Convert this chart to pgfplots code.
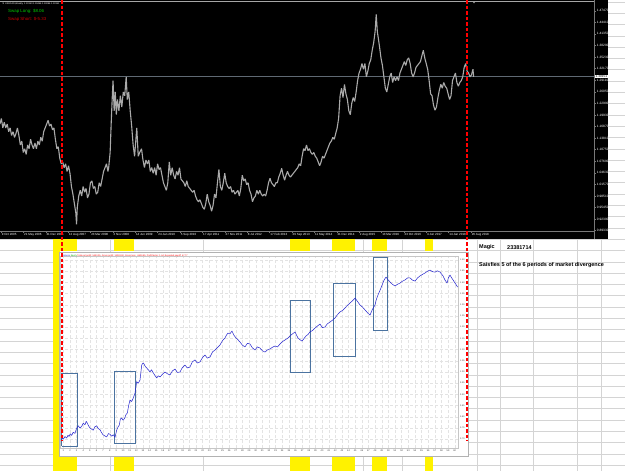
\documentclass[border=0pt]{standalone}
\usepackage{pgfplots}
\pgfplotsset{compat=1.18}
\usepackage{fontspec}
\setmainfont{Liberation Sans}
\definecolor{mtgrey}{RGB}{120,120,120}
\definecolor{bargrey}{RGB}{170,170,170}
\definecolor{priceline}{RGB}{95,105,115}
\definecolor{swapgreen}{RGB}{0,200,0}
\definecolor{swapred}{RGB}{205,0,0}
\definecolor{xlgrid}{RGB}{212,212,212}
\definecolor{boxblue}{RGB}{75,115,160}
\definecolor{eqblue}{RGB}{35,35,205}
\begin{document}
\begin{tikzpicture}
\useasboundingbox (0,0) rectangle (625pt,-471pt);
\clip (0,0) rectangle (625pt,-471pt);
\begin{scope}[x=1pt,y=-1pt]
\fill[white] (0,0) rectangle (625,471);
\foreach \k in {-22,...,19} {\draw[xlgrid, line width=0.5pt] (0,{250.5+11.3*\k}) -- (625,{250.5+11.3*\k});}
\foreach \c in {110,203,363,402,477,500,533,577,601} {\draw[xlgrid, line width=0.5pt] (\c,239) -- (\c,471);}
\foreach \a/\b in {53/77,114/134,290/310,332/355,372/387,425/433} {\fill[yellow] (\a,239) rectangle (\b,251); \fill[yellow] (\a,456.5) rectangle (\b,471);}
\fill[yellow] (53,239) rectangle (60,471);
\fill[black] (0,0) rectangle (608,239);
\draw[mtgrey, line width=0.5pt] (594,231) -- (594,239);
\node[anchor=west, font=\fontsize{5.5}{6}\selectfont\bfseries, inner sep=0] at (479,247.5) {Magic};
\node[anchor=west, font=\fontsize{5.5}{6}\selectfont\bfseries, inner sep=0] at (507,247.5) {23381714};
\node[anchor=west, font=\fontsize{5.5}{6}\selectfont\bfseries, inner sep=0] at (479,265) {Saisfies 5 of the 6 periods of market divergence};
\filldraw[fill=white, draw=gray!60, line width=0.5pt] (59,252.5) rectangle (468,456.5);
\draw[gray!70, line width=0.4pt] (0,0.8) -- (594,0.8);
\end{scope}

% ---------- top: USDCAD weekly ----------
\begin{axis}[
  at={(0pt,-231pt)}, anchor=south west, scale only axis,
  width=594pt, height=231pt,
  xmin=2005.7426, xmax=2022.0166, ymin=0.8925, ymax=1.5030,
  axis x line*=bottom, axis y line*=right,
  axis line style={-, draw=mtgrey, line width=0.5pt},
  every outer x axis line/.append style={-},
  every outer y axis line/.append style={-},
  xtick={2005.7700,2006.3832,2006.9963,2007.6095,2008.2226,2008.8358,2009.4489,2010.0621,2010.6752,2011.2884,2011.9015,2012.5147,2013.1278,2013.7410,2014.3541,2014.9673,2015.5804,2016.1936,2016.8067,2017.4199,2018.0330,2018.6462},
  xticklabels={9 Oct 2005,21 May 2006,31 Dec 2006,12 Aug 2007,23 Mar 2008,2 Nov 2008,14 Jun 2009,24 Jan 2010,5 Sep 2010,17 Apr 2011,27 Nov 2011,8 Jul 2012,17 Feb 2013,29 Sep 2013,11 May 2014,21 Dec 2014,2 Aug 2015,13 Mar 2016,23 Oct 2016,4 Jun 2017,14 Jan 2018,26 Aug 2018},
  ytick={0.8933,0.9239,0.9545,0.9851,1.0157,1.0463,1.0769,1.1075,1.1381,1.1687,1.1993,1.2299,1.2605,1.2911,1.3217,1.3523,1.3829,1.4135,1.4441,1.4747},
  yticklabels={0.89330,0.92390,0.95450,0.98510,1.01570,1.04630,1.07690,1.10750,1.13810,1.16870,1.19930,1.22990,1.26050,1.29110,1.32170,1.35230,1.38290,1.41350,1.44410,1.47470},
  tick style={draw=mtgrey, line width=0.4pt},
  major tick length=2pt, tick align=outside,
  xticklabel style={anchor=north west, text=white, font=\fontsize{3}{3.5}\selectfont, inner sep=0.6pt},
  yticklabel style={anchor=west, text=white, font=\fontsize{3.2}{3.5}\selectfont, inner sep=0.8pt},
  clip=true,
]
\addplot[draw=priceline, line width=0.5pt] coordinates {(2005.7426,1.30151) (2022.0166,1.30151)};
\addplot[draw=bargrey, line width=1.1pt, line join=bevel] table[row sep=\\] {
t p\\
2005.74 1.175\\ 2005.78 1.190\\ 2005.82 1.165\\ 2005.86 1.180\\ 2005.90 1.165\\ 2005.94 1.175\\ 2005.98 1.155\\
2006.02 1.165\\ 2006.06 1.145\\ 2006.10 1.155\\ 2006.14 1.140\\ 2006.18 1.150\\ 2006.22 1.165\\ 2006.26 1.145\\
2006.30 1.120\\ 2006.34 1.130\\ 2006.38 1.100\\ 2006.42 1.110\\ 2006.46 1.095\\ 2006.50 1.120\\ 2006.54 1.110\\
2006.58 1.135\\ 2006.62 1.120\\ 2006.66 1.110\\ 2006.70 1.125\\ 2006.74 1.110\\ 2006.78 1.130\\ 2006.82 1.120\\
2006.86 1.140\\ 2006.90 1.130\\ 2006.94 1.155\\ 2006.98 1.165\\ 2007.02 1.175\\ 2007.06 1.185\\ 2007.10 1.170\\
2007.14 1.175\\ 2007.18 1.160\\ 2007.22 1.165\\ 2007.26 1.135\\ 2007.30 1.110\\ 2007.34 1.115\\ 2007.38 1.085\\
2007.42 1.070\\ 2007.46 1.075\\ 2007.50 1.060\\ 2007.54 1.070\\ 2007.58 1.050\\ 2007.62 1.065\\ 2007.66 1.045\\
2007.70 1.010\\ 2007.74 0.990\\ 2007.78 0.965\\ 2007.82 0.940\\ 2007.84 0.910\\ 2007.86 0.955\\ 2007.90 0.985\\
2007.94 1.000\\ 2007.98 0.985\\ 2008.02 1.010\\ 2008.06 0.995\\ 2008.10 1.005\\ 2008.14 0.980\\ 2008.18 0.990\\
2008.22 1.020\\ 2008.26 1.025\\ 2008.30 1.005\\ 2008.34 1.010\\ 2008.38 0.990\\ 2008.42 0.995\\ 2008.46 1.020\\
2008.50 1.010\\ 2008.54 1.030\\ 2008.58 1.050\\ 2008.62 1.060\\ 2008.66 1.070\\ 2008.70 1.050\\ 2008.72 1.060\\
2008.76 1.100\\ 2008.79 1.180\\ 2008.82 1.250\\ 2008.84 1.290\\ 2008.87 1.210\\ 2008.90 1.260\\ 2008.93 1.200\\
2008.96 1.240\\ 2009.00 1.210\\ 2009.04 1.250\\ 2009.08 1.220\\ 2009.12 1.260\\ 2009.16 1.250\\ 2009.20 1.300\\
2009.23 1.240\\ 2009.27 1.260\\ 2009.31 1.210\\ 2009.35 1.170\\ 2009.39 1.120\\ 2009.43 1.090\\ 2009.49 1.165\\
2009.53 1.090\\ 2009.57 1.100\\ 2009.62 1.110\\ 2009.66 1.080\\ 2009.70 1.060\\ 2009.74 1.080\\ 2009.78 1.070\\
2009.82 1.080\\ 2009.86 1.050\\ 2009.90 1.060\\ 2009.94 1.045\\ 2009.98 1.060\\ 2010.02 1.040\\ 2010.06 1.070\\
2010.10 1.055\\ 2010.14 1.060\\ 2010.18 1.040\\ 2010.22 1.020\\ 2010.26 1.010\\ 2010.30 1.000\\ 2010.34 1.020\\
2010.38 1.075\\ 2010.42 1.040\\ 2010.46 1.060\\ 2010.50 1.040\\ 2010.54 1.030\\ 2010.58 1.050\\ 2010.62 1.040\\
2010.66 1.060\\ 2010.70 1.030\\ 2010.74 1.025\\ 2010.78 1.020\\ 2010.82 1.010\\ 2010.86 1.025\\ 2010.90 1.010\\
2010.94 1.005\\ 2010.98 1.000\\ 2011.02 0.995\\ 2011.06 1.000\\ 2011.10 0.985\\ 2011.14 0.975\\ 2011.18 0.970\\
2011.22 0.975\\ 2011.26 0.965\\ 2011.30 0.955\\ 2011.34 0.950\\ 2011.38 0.965\\ 2011.42 0.990\\ 2011.46 0.970\\
2011.50 0.960\\ 2011.54 0.945\\ 2011.58 0.960\\ 2011.62 0.990\\ 2011.66 0.980\\ 2011.70 1.020\\ 2011.74 1.055\\
2011.78 1.010\\ 2011.82 1.000\\ 2011.86 1.020\\ 2011.90 1.045\\ 2011.94 1.020\\ 2011.98 1.010\\ 2012.02 1.005\\
2012.06 1.010\\ 2012.10 0.995\\ 2012.14 1.000\\ 2012.18 0.990\\ 2012.22 0.995\\ 2012.26 1.000\\ 2012.30 0.985\\
2012.34 1.005\\ 2012.38 1.040\\ 2012.42 1.025\\ 2012.46 1.030\\ 2012.50 1.015\\ 2012.54 1.020\\ 2012.58 1.000\\
2012.62 0.990\\ 2012.66 0.970\\ 2012.70 0.980\\ 2012.74 0.985\\ 2012.78 1.000\\ 2012.82 0.990\\ 2012.86 1.000\\
2012.90 0.990\\ 2012.94 0.985\\ 2012.98 0.990\\ 2013.02 0.985\\ 2013.06 1.000\\ 2013.10 1.020\\ 2013.14 1.032\\
2013.18 1.020\\ 2013.22 1.015\\ 2013.26 1.010\\ 2013.30 1.020\\ 2013.34 1.020\\ 2013.38 1.035\\ 2013.42 1.045\\
2013.46 1.058\\ 2013.50 1.040\\ 2013.54 1.027\\ 2013.58 1.040\\ 2013.62 1.050\\ 2013.66 1.040\\ 2013.70 1.035\\
2013.74 1.040\\ 2013.78 1.045\\ 2013.82 1.050\\ 2013.86 1.055\\ 2013.90 1.060\\ 2013.94 1.070\\ 2013.98 1.065\\
2014.02 1.090\\ 2014.06 1.110\\ 2014.10 1.105\\ 2014.14 1.120\\ 2014.18 1.105\\ 2014.22 1.110\\ 2014.26 1.100\\
2014.30 1.095\\ 2014.34 1.100\\ 2014.38 1.090\\ 2014.42 1.085\\ 2014.46 1.075\\ 2014.50 1.065\\ 2014.54 1.075\\
2014.58 1.090\\ 2014.62 1.085\\ 2014.66 1.095\\ 2014.70 1.105\\ 2014.74 1.115\\ 2014.78 1.125\\ 2014.82 1.130\\
2014.86 1.140\\ 2014.90 1.135\\ 2014.94 1.150\\ 2014.98 1.165\\ 2015.02 1.190\\ 2015.06 1.250\\ 2015.10 1.270\\
2015.14 1.245\\ 2015.18 1.280\\ 2015.22 1.255\\ 2015.26 1.240\\ 2015.30 1.210\\ 2015.34 1.200\\ 2015.38 1.230\\
2015.42 1.245\\ 2015.46 1.235\\ 2015.50 1.260\\ 2015.54 1.290\\ 2015.58 1.310\\ 2015.62 1.320\\ 2015.66 1.335\\
2015.70 1.320\\ 2015.74 1.335\\ 2015.78 1.300\\ 2015.82 1.315\\ 2015.86 1.335\\ 2015.90 1.345\\ 2015.94 1.370\\
2015.98 1.390\\ 2016.02 1.420\\ 2016.05 1.465\\ 2016.08 1.420\\ 2016.11 1.400\\ 2016.14 1.380\\ 2016.18 1.350\\
2016.22 1.330\\ 2016.26 1.300\\ 2016.30 1.270\\ 2016.34 1.260\\ 2016.38 1.280\\ 2016.42 1.300\\ 2016.46 1.310\\
2016.50 1.285\\ 2016.54 1.300\\ 2016.58 1.290\\ 2016.62 1.300\\ 2016.66 1.290\\ 2016.70 1.310\\ 2016.74 1.320\\
2016.78 1.330\\ 2016.82 1.340\\ 2016.86 1.330\\ 2016.90 1.345\\ 2016.94 1.350\\ 2016.98 1.335\\ 2017.02 1.310\\
2017.06 1.300\\ 2017.10 1.310\\ 2017.14 1.325\\ 2017.18 1.330\\ 2017.22 1.335\\ 2017.26 1.340\\ 2017.30 1.355\\
2017.34 1.370\\ 2017.38 1.350\\ 2017.42 1.335\\ 2017.46 1.320\\ 2017.50 1.290\\ 2017.54 1.255\\ 2017.58 1.250\\
2017.62 1.225\\ 2017.66 1.212\\ 2017.70 1.220\\ 2017.74 1.245\\ 2017.78 1.265\\ 2017.82 1.280\\ 2017.86 1.270\\
2017.90 1.285\\ 2017.94 1.275\\ 2017.98 1.270\\ 2018.02 1.255\\ 2018.06 1.240\\ 2018.10 1.250\\ 2018.14 1.290\\
2018.18 1.300\\ 2018.22 1.310\\ 2018.26 1.285\\ 2018.30 1.275\\ 2018.34 1.285\\ 2018.38 1.290\\ 2018.42 1.300\\
2018.46 1.325\\ 2018.50 1.335\\ 2018.54 1.315\\ 2018.58 1.310\\ 2018.62 1.300\\ 2018.66 1.305\\ 2018.70 1.320\\
2018.72 1.300\\
};
\end{axis}

% ---------- bottom: equity curve ----------
\begin{axis}[
  at={(60pt,-448pt)}, anchor=south west, scale only axis,
  width=398pt, height=192pt,
  xmin=0.5, xmax=60.5, ymin=0.6607, ymax=1.5179,
  axis x line*=bottom, axis y line*=right,
  axis line style={-, draw=gray!80, line width=0.5pt},
  every outer x axis line/.append style={-},
  every outer y axis line/.append style={-},
  xtick={1,...,60},
  ytick={0.70,0.75,0.80,0.85,0.90,0.95,1.00,1.05,1.10,1.15,1.20,1.25,1.30,1.35,1.40,1.45,1.50},
  yticklabels={0.70,0.75,0.80,0.85,0.90,0.95,1.00,1.05,1.10,1.15,1.20,1.25,1.30,1.35,1.40,1.45,1.50},
  /pgf/number format/assume math mode=true,
  grid=major, major grid style={densely dashed, draw=gray!22, line width=0.3pt},
  tick style={draw=gray!80, line width=0.3pt},
  major tick length=1.2pt, tick align=outside,
  xticklabel style={font=\fontsize{2.4}{2.6}\selectfont, text=gray!50!black, inner sep=0.6pt},
  yticklabel style={font=\fontsize{2.2}{2.4}\selectfont, text=gray!50!black, inner sep=0.8pt},
  clip=false,
]
\draw[gray!45, line width=0.4pt] (rel axis cs:0,0) rectangle (rel axis cs:1,1);
\addplot[draw=boxblue, line width=0.6pt] coordinates {(0.76,0.670) (3.10,0.670) (3.10,0.994) (0.76,0.994) (0.76,0.670)};
\addplot[draw=boxblue, line width=0.6pt] coordinates {(8.69,0.682) (11.90,0.682) (11.90,1.001) (8.69,1.001) (8.69,0.682)};
\addplot[draw=boxblue, line width=0.6pt] coordinates {(35.17,1.000) (38.19,1.000) (38.19,1.321) (35.17,1.321) (35.17,1.000)};
\addplot[draw=boxblue, line width=0.6pt] coordinates {(41.66,1.071) (44.98,1.071) (44.98,1.397) (41.66,1.397) (41.66,1.071)};
\addplot[draw=boxblue, line width=0.6pt] coordinates {(47.69,1.188) (49.80,1.188) (49.80,1.513) (47.69,1.513) (47.69,1.188)};
\addplot[draw=eqblue, line width=0.5pt, line join=bevel] table[row sep=\\] {
c v\\
0.65 0.696\\ 0.85 0.705\\ 1.00 0.700\\ 1.25 0.712\\ 1.51 0.705\\ 1.70 0.718\\ 1.86 0.712\\ 2.05 0.724\\
2.26 0.717\\ 2.50 0.731\\ 2.76 0.726\\ 3.00 0.748\\ 3.26 0.760\\ 3.50 0.750\\ 3.77 0.757\\ 4.00 0.771\\
4.27 0.765\\ 4.45 0.780\\ 4.61 0.772\\ 4.80 0.760\\ 5.02 0.750\\ 5.25 0.745\\ 5.52 0.740\\ 5.75 0.755\\
6.03 0.760\\ 6.25 0.748\\ 6.53 0.742\\ 6.75 0.730\\ 6.98 0.720\\ 7.25 0.715\\ 7.54 0.710\\ 7.80 0.725\\
8.04 0.722\\ 8.29 0.713\\ 8.55 0.720\\ 8.79 0.708\\ 9.04 0.740\\ 9.25 0.755\\ 9.44 0.763\\ 9.60 0.790\\
9.80 0.795\\ 10.00 0.785\\ 10.22 0.792\\ 10.45 0.810\\ 10.65 0.817\\ 10.85 0.850\\ 11.05 0.875\\ 11.30 0.868\\
11.55 0.884\\ 11.81 0.906\\ 12.06 0.957\\ 12.30 0.950\\ 12.56 0.964\\ 12.70 1.000\\ 12.82 1.031\\ 13.00 1.040\\
13.16 1.036\\ 13.35 1.025\\ 13.57 1.018\\ 13.80 1.010\\ 14.07 1.001\\ 14.30 1.010\\ 14.57 0.996\\ 14.80 0.985\\
15.08 0.973\\ 15.30 0.983\\ 15.58 0.978\\ 15.95 0.990\\ 16.33 1.000\\ 16.70 0.992\\ 17.08 0.987\\ 17.45 1.005\\
17.84 1.013\\ 18.20 0.998\\ 18.59 1.000\\ 18.95 1.020\\ 19.34 1.031\\ 19.70 1.018\\ 20.09 1.022\\ 20.45 1.045\\
20.85 1.054\\ 21.20 1.040\\ 21.60 1.045\\ 22.00 1.065\\ 22.36 1.076\\ 22.70 1.062\\ 23.11 1.067\\ 23.50 1.090\\
23.86 1.098\\ 24.25 1.110\\ 24.62 1.121\\ 25.00 1.140\\ 25.37 1.152\\ 25.60 1.165\\ 25.82 1.174\\ 26.10 1.170\\
26.43 1.183\\ 26.70 1.165\\ 27.03 1.152\\ 27.30 1.145\\ 27.63 1.134\\ 28.00 1.120\\ 28.38 1.112\\ 28.75 1.128\\
29.14 1.125\\ 29.50 1.108\\ 29.89 1.098\\ 30.25 1.112\\ 30.65 1.107\\ 31.00 1.095\\ 31.40 1.089\\ 31.75 1.098\\
32.15 1.103\\ 32.50 1.110\\ 32.91 1.116\\ 33.30 1.112\\ 33.66 1.125\\ 34.00 1.135\\ 34.42 1.143\\ 34.80 1.150\\
35.17 1.161\\ 35.55 1.170\\ 35.93 1.179\\ 36.15 1.165\\ 36.38 1.152\\ 36.65 1.145\\ 36.98 1.138\\ 37.30 1.150\\
37.59 1.161\\ 37.90 1.168\\ 38.19 1.179\\ 38.55 1.185\\ 38.94 1.196\\ 39.30 1.205\\ 39.70 1.214\\ 40.05 1.198\\
40.45 1.201\\ 40.80 1.215\\ 41.21 1.223\\ 41.60 1.232\\ 41.96 1.241\\ 42.30 1.255\\ 42.71 1.268\\ 43.10 1.275\\
43.47 1.286\\ 43.85 1.298\\ 44.22 1.308\\ 44.60 1.318\\ 44.98 1.330\\ 45.35 1.315\\ 45.73 1.299\\ 46.10 1.290\\
46.49 1.277\\ 46.85 1.265\\ 47.24 1.254\\ 47.60 1.280\\ 47.99 1.299\\ 48.20 1.325\\ 48.44 1.344\\ 48.75 1.365\\
49.05 1.388\\ 49.35 1.410\\ 49.65 1.424\\ 49.95 1.412\\ 50.25 1.402\\ 50.60 1.392\\ 51.00 1.384\\ 51.40 1.392\\
51.76 1.397\\ 52.10 1.405\\ 52.51 1.411\\ 52.90 1.420\\ 53.27 1.420\\ 53.65 1.410\\ 54.02 1.406\\ 54.40 1.420\\
54.77 1.429\\ 55.15 1.436\\ 55.53 1.442\\ 55.90 1.450\\ 56.28 1.455\\ 56.65 1.448\\ 57.03 1.446\\ 57.40 1.452\\
57.79 1.446\\ 58.00 1.438\\ 58.24 1.429\\ 58.55 1.410\\ 58.85 1.397\\ 59.05 1.420\\ 59.30 1.433\\ 59.50 1.422\\
59.75 1.411\\ 60.10 1.395\\ 60.45 1.379\\
};
\end{axis}

\begin{scope}[x=1pt,y=-1pt]
\node[anchor=north west, inner sep=0, font=\fontsize{2.2}{2.5}\selectfont] at (62,254.5) {{\color{eqblue}Balance} {\color{green!70!black}Equity}  {\color{red}Total net profit: 5493.05, Gross profit: 14093.90, Gross loss: -8600.85, Profit factor: 1.64, Expected payoff: 47.77}};
\draw[red, line width=1.1pt, dash pattern=on 3.5pt off 2pt] (62,0) -- (62,441);
\draw[red, line width=1.1pt, dash pattern=on 3.5pt off 2pt] (467,0) -- (467,441);
\fill[gray!70] (472.3,1) -- (475.7,1) -- (474,3.4) -- cycle;
\node[anchor=west, inner sep=0, text=white, font=\fontsize{2.3}{2.6}\selectfont] at (2,4.3) {▼ USDCAD,Weekly\ \ 1.30150 1.30466 1.30086 1.30151};
\node[anchor=west, inner sep=0, text=swapgreen, font=\fontsize{4.4}{5}\selectfont] at (8,11.7) {Swap Long: \$8.06};
\node[anchor=west, inner sep=0, text=swapred, font=\fontsize{4.4}{5}\selectfont] at (8,19) {Swap Short: \$-5.33};
\node[anchor=west, fill=white, text=black, inner sep=0.5pt, font=\fontsize{3.2}{3.5}\selectfont] at (595,76.2) {1.30151};
\end{scope}
\end{tikzpicture}
\end{document}
